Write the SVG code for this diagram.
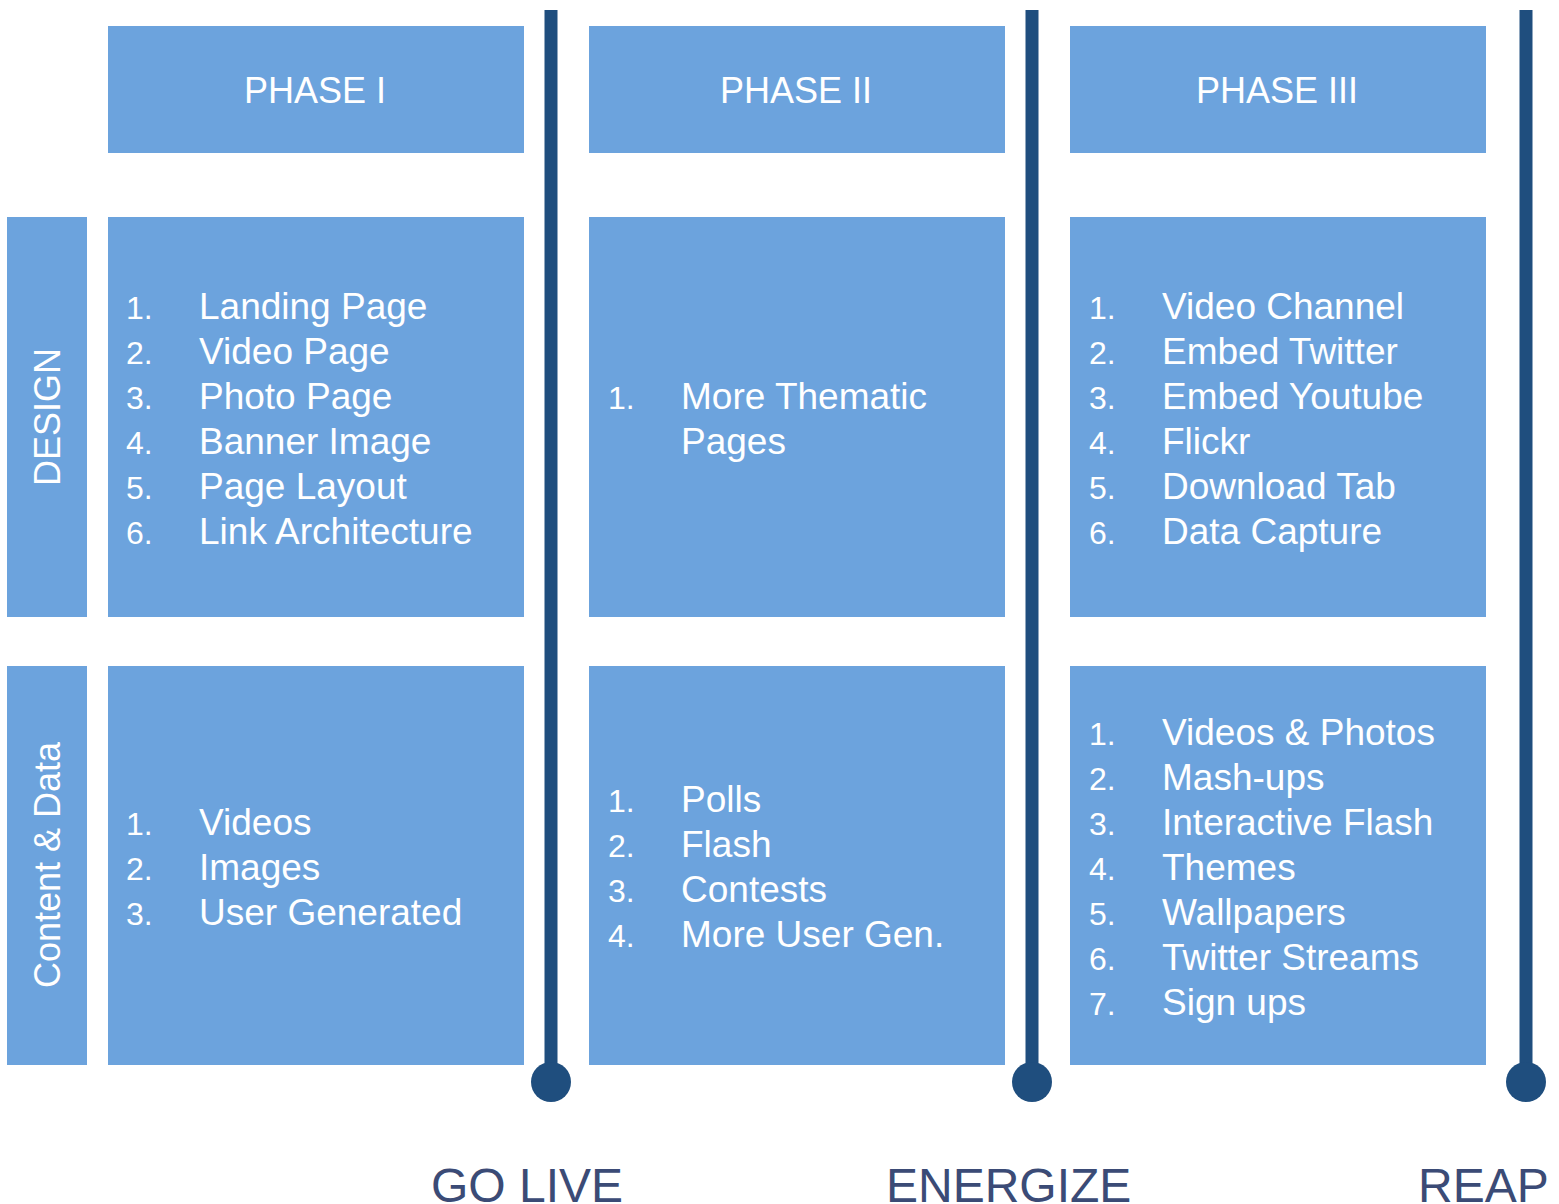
<svg xmlns="http://www.w3.org/2000/svg" width="1559" height="1204" viewBox="0 0 1559 1204">
<style>
.box{fill:#6CA3DD}
.t{font-family:"Liberation Sans",Arial,sans-serif;fill:#FFFFFF}
.h{font-size:36px;text-anchor:middle}
.it{font-size:37px}
.n{font-size:32px}
.side{font-size:36px;text-anchor:middle}
.ms{font-family:"Liberation Sans",Arial,sans-serif;font-size:48px;fill:#3B4B76}
.ln{stroke:#1F4E7E;stroke-width:13;fill:none}
.dot{fill:#1F4E7E}
</style>
<rect width="1559" height="1204" fill="#FFFFFF"/>
<g id="phase1-header"><rect class="box" x="108" y="26" width="416" height="127"/><text class="t h" x="315" y="103">PHASE I</text></g>
<g id="phase2-header"><rect class="box" x="589" y="26" width="416" height="127"/><text class="t h" x="796" y="103">PHASE II</text></g>
<g id="phase3-header"><rect class="box" x="1070" y="26" width="416" height="127"/><text class="t h" x="1277" y="103">PHASE III</text></g>
<g id="design-label"><rect class="box" x="7" y="217" width="80" height="400"/><text class="t side" transform="translate(60,417) rotate(-90)">DESIGN</text></g>
<g id="content-label"><rect class="box" x="7" y="666" width="80" height="399"/><text class="t side" transform="translate(60,865) rotate(-90)">Content &amp; Data</text></g>
<g id="design-p1"><rect class="box" x="108" y="217" width="416" height="400"/>
<text class="t n" x="126" y="319">1.</text><text class="t it" x="199" y="319">Landing Page</text>
<text class="t n" x="126" y="364">2.</text><text class="t it" x="199" y="364">Video Page</text>
<text class="t n" x="126" y="409">3.</text><text class="t it" x="199" y="409">Photo Page</text>
<text class="t n" x="126" y="454">4.</text><text class="t it" x="199" y="454">Banner Image</text>
<text class="t n" x="126" y="499">5.</text><text class="t it" x="199" y="499">Page Layout</text>
<text class="t n" x="126" y="544">6.</text><text class="t it" x="199" y="544">Link Architecture</text>
</g>
<g id="design-p2"><rect class="box" x="589" y="217" width="416" height="400"/>
<text class="t n" x="608" y="409">1.</text><text class="t it" x="681" y="409">More Thematic</text>
<text class="t it" x="681" y="454">Pages</text>
</g>
<g id="design-p3"><rect class="box" x="1070" y="217" width="416" height="400"/>
<text class="t n" x="1089" y="319">1.</text><text class="t it" x="1162" y="319">Video Channel</text>
<text class="t n" x="1089" y="364">2.</text><text class="t it" x="1162" y="364">Embed Twitter</text>
<text class="t n" x="1089" y="409">3.</text><text class="t it" x="1162" y="409">Embed Youtube</text>
<text class="t n" x="1089" y="454">4.</text><text class="t it" x="1162" y="454">Flickr</text>
<text class="t n" x="1089" y="499">5.</text><text class="t it" x="1162" y="499">Download Tab</text>
<text class="t n" x="1089" y="544">6.</text><text class="t it" x="1162" y="544">Data Capture</text>
</g>
<g id="content-p1"><rect class="box" x="108" y="666" width="416" height="399"/>
<text class="t n" x="126" y="835">1.</text><text class="t it" x="199" y="835">Videos</text>
<text class="t n" x="126" y="880">2.</text><text class="t it" x="199" y="880">Images</text>
<text class="t n" x="126" y="925">3.</text><text class="t it" x="199" y="925">User Generated</text>
</g>
<g id="content-p2"><rect class="box" x="589" y="666" width="416" height="399"/>
<text class="t n" x="608" y="812">1.</text><text class="t it" x="681" y="812">Polls</text>
<text class="t n" x="608" y="857">2.</text><text class="t it" x="681" y="857">Flash</text>
<text class="t n" x="608" y="902">3.</text><text class="t it" x="681" y="902">Contests</text>
<text class="t n" x="608" y="947">4.</text><text class="t it" x="681" y="947">More User Gen.</text>
</g>
<g id="content-p3"><rect class="box" x="1070" y="666" width="416" height="399"/>
<text class="t n" x="1089" y="745">1.</text><text class="t it" x="1162" y="745">Videos &amp; Photos</text>
<text class="t n" x="1089" y="790">2.</text><text class="t it" x="1162" y="790">Mash-ups</text>
<text class="t n" x="1089" y="835">3.</text><text class="t it" x="1162" y="835">Interactive Flash</text>
<text class="t n" x="1089" y="880">4.</text><text class="t it" x="1162" y="880">Themes</text>
<text class="t n" x="1089" y="925">5.</text><text class="t it" x="1162" y="925">Wallpapers</text>
<text class="t n" x="1089" y="970">6.</text><text class="t it" x="1162" y="970">Twitter Streams</text>
<text class="t n" x="1089" y="1015">7.</text><text class="t it" x="1162" y="1015">Sign ups</text>
</g>
<g id="connectors">
<line class="ln" x1="551" y1="10" x2="551" y2="1080"/><circle class="dot" cx="551" cy="1082" r="20"/>
<line class="ln" x1="1032" y1="10" x2="1032" y2="1080"/><circle class="dot" cx="1032" cy="1082" r="20"/>
<line class="ln" x1="1526" y1="10" x2="1526" y2="1080"/><circle class="dot" cx="1526" cy="1082" r="20"/>
</g>
<g id="milestones">
<text class="ms" x="431" y="1202">GO LIVE</text>
<text class="ms" x="886" y="1202">ENERGIZE</text>
<text class="ms" x="1418" y="1202">REAP</text>
</g>
</svg>
